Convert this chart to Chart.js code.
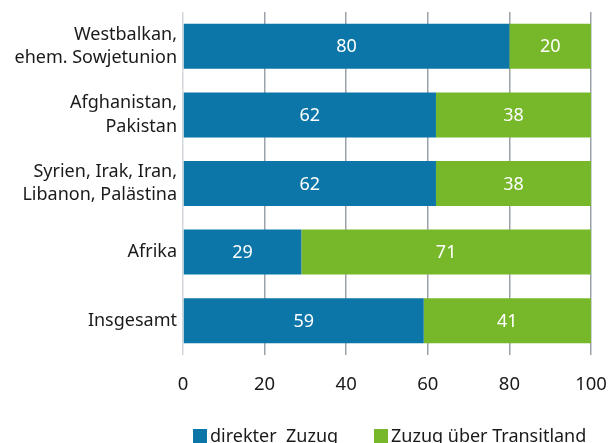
<!DOCTYPE html>
<html>
<head>
<meta charset="utf-8">
<script src="https://cdn.jsdelivr.net/npm/chart.js@4"></script>
<style>
html,body{margin:0;padding:0;background:#fff;}
#wrap{width:615px;height:443px;position:relative;}
</style>
</head>
<body>
<div id="wrap"><canvas id="c" width="615" height="443"></canvas></div>
<script>
const categories = [
  ["Westbalkan,", "ehem. Sowjetunion"],
  ["Afghanistan,", "Pakistan"],
  ["Syrien, Irak, Iran,", "Libanon, Palästina"],
  ["Afrika"],
  ["Insgesamt"]
];
const seriesNames = ["direkter  Zuzug", "Zuzug über Transitland"];
const direkt = [80, 62, 62, 29, 59];
const transit = [20, 38, 38, 71, 41];
const xTicks = [0, 20, 40, 60, 80, 100];

const BLUE = '#0b76a7';
const GREEN = '#77b82a';
const FONT = "'Noto Sans', sans-serif";

const valueLabels = {
  id: 'valueLabels',
  afterDatasetsDraw(chart) {
    const ctx = chart.ctx;
    ctx.save();
    ctx.fillStyle = '#ffffff';
    ctx.font = '18px ' + FONT;
    ctx.textAlign = 'center';
    ctx.textBaseline = 'middle';
    chart.data.datasets.forEach((ds, di) => {
      const meta = chart.getDatasetMeta(di);
      meta.data.forEach((bar, i) => {
        const x = (bar.x + bar.base) / 2;
        ctx.fillText(String(ds.data[i]), x, bar.y + 1);
      });
    });
    ctx.restore();
  }
};

const customLegend = {
  id: 'customLegend',
  afterDraw(chart) {
    const ctx = chart.ctx;
    ctx.save();
    ctx.font = '18px ' + FONT;
    ctx.textBaseline = 'alphabetic';
    ctx.textAlign = 'left';
    const starts = [193, 374];
    chart.data.datasets.forEach((ds, di) => {
      const x = starts[di];
      ctx.fillStyle = ds.backgroundColor;
      ctx.fillRect(x, 429, 14, 14);
      ctx.fillStyle = '#1a1a1a';
      ctx.fillText(ds.label, x + 17, 442);
    });
    ctx.restore();
  }
};

new Chart(document.getElementById('c'), {
  type: 'bar',
  data: {
    labels: categories,
    datasets: [
      { label: seriesNames[0], data: direkt, backgroundColor: BLUE, borderWidth: 0 },
      { label: seriesNames[1], data: transit, backgroundColor: GREEN, borderWidth: 0 }
    ]
  },
  options: {
    indexAxis: 'y',
    responsive: false,
    animation: false,
    devicePixelRatio: 1,
    layout: { padding: { left: 0, right: 24, top: 12, bottom: 0 } },
    datasets: { bar: { categoryPercentage: 1, barPercentage: 0.656 } },
    plugins: {
      legend: { display: false },
      tooltip: { enabled: false }
    },
    scales: {
      x: {
        stacked: true,
        min: 0, max: 100,
        afterBuildTicks(axis) { axis.ticks = xTicks.map(v => ({ value: v })); },
        afterFit(axis) { axis.height = 88; axis.paddingLeft = 0; axis.paddingRight = 0; },
        border: { display: false },
        grid: {
          drawTicks: false,
          lineWidth: 1.5,
          color: (c) => c.index === 0 ? '#d3d7dc' : '#9ca2aa'
        },
        ticks: {
          padding: 19,
          color: '#1a1a1a',
          font: { family: FONT, size: 18.5 },
          maxRotation: 0
        }
      },
      y: {
        stacked: true,
        afterFit(axis) { axis.width = 183; axis.paddingTop = 0; axis.paddingBottom = 0; },
        border: { display: false },
        grid: { display: false, drawTicks: false },
        ticks: {
          padding: 6,
          color: '#1a1a1a',
          font: { family: FONT, size: 18, lineHeight: 1.3 }
        }
      }
    }
  },
  plugins: [valueLabels, customLegend]
});
</script>
</body>
</html>
